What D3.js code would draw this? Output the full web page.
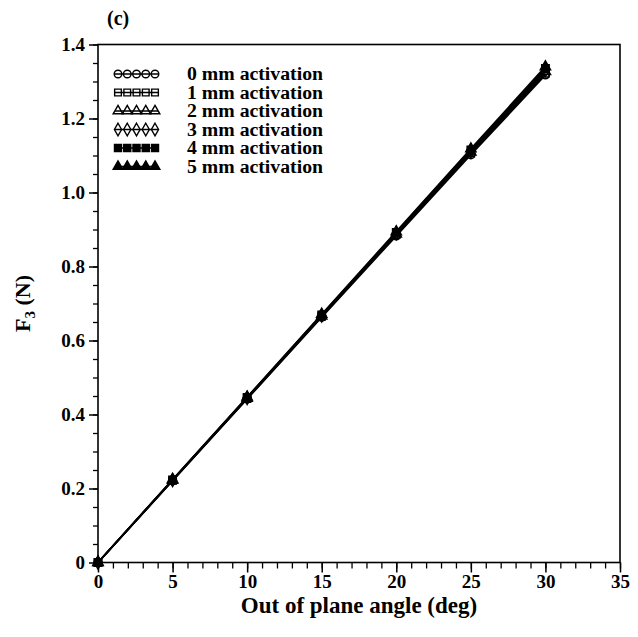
<!DOCTYPE html>
<html>
<head>
<meta charset="utf-8">
<script src="https://cdn.jsdelivr.net/npm/d3@7"></script>
<style>
  html, body { margin: 0; padding: 0; background: #fff; }
  svg { display: block; }
  text { font-family: "Liberation Serif", "DejaVu Serif", serif; font-weight: bold; fill: #000; }
</style>
</head>
<body>
<svg id="chart" width="638" height="637"></svg>
<script>
// Out-of-plane angle (deg) at which F3 was computed
const angles = [0, 5, 10, 15, 20, 25, 30];

// F3 (N) for each activation level
const f3_0mm = [0, 0.221, 0.442, 0.663, 0.883, 1.102, 1.318];
const f3_1mm = [0, 0.222, 0.443, 0.665, 0.886, 1.106, 1.322];
const f3_2mm = [0, 0.222, 0.444, 0.666, 0.888, 1.109, 1.327];
const f3_3mm = [0, 0.223, 0.445, 0.668, 0.890, 1.112, 1.331];
const f3_4mm = [0, 0.223, 0.446, 0.669, 0.892, 1.115, 1.335];
const f3_5mm = [0, 0.224, 0.447, 0.671, 0.894, 1.118, 1.340];

const seriesLabels = ["0 mm activation", "1 mm activation", "2 mm activation",
                      "3 mm activation", "4 mm activation", "5 mm activation"];

const xTicks = [0, 5, 10, 15, 20, 25, 30, 35];
const yTicks = [0, 0.2, 0.4, 0.6, 0.8, 1.0, 1.2, 1.4];
const yTickLabels = ["0", "0.2", "0.4", "0.6", "0.8", "1.0", "1.2", "1.4"];

const allSeries = [f3_0mm, f3_1mm, f3_2mm, f3_3mm, f3_4mm, f3_5mm];
// marker style per series: symbol type and whether it is filled
const markerStyles = [
  { type: d3.symbolCircle,   filled: false, size: 50 },
  { type: d3.symbolSquare,   filled: false, size: 50 },
  { type: d3.symbolTriangle, filled: false, size: 45 },
  { type: d3.symbolDiamond,  filled: false, size: 50 },
  { type: d3.symbolSquare,   filled: true,  size: 55 },
  { type: d3.symbolTriangle, filled: true,  size: 45 }
];

const svg = d3.select("#chart");
const plotL = 98, plotR = 620, plotT = 44.5, plotB = 562.5;

const x = d3.scaleLinear().domain([0, 35]).range([plotL, plotR]);
const y = d3.scaleLinear().domain([0, 1.4]).range([plotB, plotT]);

// frame
svg.append("rect")
  .attr("x", plotL).attr("y", plotT)
  .attr("width", plotR - plotL).attr("height", plotB - plotT)
  .attr("fill", "none").attr("stroke", "#000").attr("stroke-width", 1.6);

// x axis: minor then major ticks
svg.append("g")
  .attr("transform", `translate(0,${plotB})`)
  .call(d3.axisBottom(x).tickValues(d3.range(0, 36, 1)).tickSize(6).tickFormat(""))
  .call(g => g.select(".domain").remove())
  .selectAll("line").attr("stroke-width", 1.3);
const xAxis = svg.append("g")
  .attr("transform", `translate(0,${plotB})`)
  .call(d3.axisBottom(x).tickValues(xTicks).tickSize(10).tickPadding(2).tickFormat(d3.format("d")));
xAxis.select(".domain").remove();
xAxis.selectAll("line").attr("stroke-width", 1.5);
xAxis.selectAll("text").style("font-size", "19px").attr("fill", "#000");

// y axis
svg.append("g")
  .attr("transform", `translate(${plotL},0)`)
  .call(d3.axisLeft(y).tickValues(d3.range(0, 1.4001, 0.05)).tickSize(5).tickFormat(""))
  .call(g => g.select(".domain").remove())
  .selectAll("line").attr("stroke-width", 1.3);
const yAxis = svg.append("g")
  .attr("transform", `translate(${plotL},0)`)
  .call(d3.axisLeft(y).tickValues(yTicks).tickSize(9).tickPadding(4)
        .tickFormat((d, i) => yTickLabels[i]));
yAxis.select(".domain").remove();
yAxis.selectAll("line").attr("stroke-width", 1.5);
yAxis.selectAll("text").style("font-size", "19px").attr("fill", "#000");

// axis titles
svg.append("text")
  .attr("x", (plotL + plotR) / 2).attr("y", 613)
  .attr("text-anchor", "middle").style("font-size", "23px")
  .text("Out of plane angle (deg)");

const yTitle = svg.append("text")
  .attr("transform", `translate(30,${(plotT + plotB) / 2}) rotate(-90)`)
  .attr("text-anchor", "middle").style("font-size", "22px");
yTitle.append("tspan").text("F");
yTitle.append("tspan").attr("dy", 5).style("font-size", "15px").text("3");
yTitle.append("tspan").attr("dy", -5).text(" (N)");

// panel tag
svg.append("text").attr("x", 107).attr("y", 25).style("font-size", "20px").text("(c)");

// data lines and markers
const line = d3.line().x((d, i) => x(angles[i])).y(d => y(d));
allSeries.forEach((vals, si) => {
  const st = markerStyles[si];
  svg.append("path").datum(vals)
    .attr("d", line).attr("fill", "none")
    .attr("stroke", "#000").attr("stroke-width", 1.8);
  svg.append("g").selectAll("path").data(vals).join("path")
    .attr("transform", (d, i) => `translate(${x(angles[i])},${y(d)})`)
    .attr("d", d3.symbol().type(st.type).size(st.size))
    .attr("fill", st.filled ? "#000" : "none")
    .attr("stroke", "#000").attr("stroke-width", 1.5);
});

// legend
const legX0 = 115, legX1 = 158, legY0 = 74, legDy = 18.5;
seriesLabels.forEach((lab, si) => {
  const st = markerStyles[si];
  const gy = legY0 + si * legDy;
  const g = svg.append("g");
  g.append("line").attr("x1", legX0).attr("x2", legX1)
    .attr("y1", gy).attr("y2", gy).attr("stroke", "#000").attr("stroke-width", 1.5);
  d3.range(5).forEach(k => {
    g.append("path")
      .attr("transform", `translate(${legX0 + 3 + k * (legX1 - legX0 - 6) / 4},${gy})`)
      .attr("d", d3.symbol().type(st.type).size(st.size * 0.9))
      .attr("fill", st.filled ? "#000" : "none")
      .attr("stroke", "#000").attr("stroke-width", 1.4);
  });
  g.append("text").attr("x", 187).attr("y", gy + 6)
    .attr("textLength", 136).attr("lengthAdjust", "spacingAndGlyphs")
    .style("font-size", "18px").text(lab);
});
</script>
</body>
</html>
